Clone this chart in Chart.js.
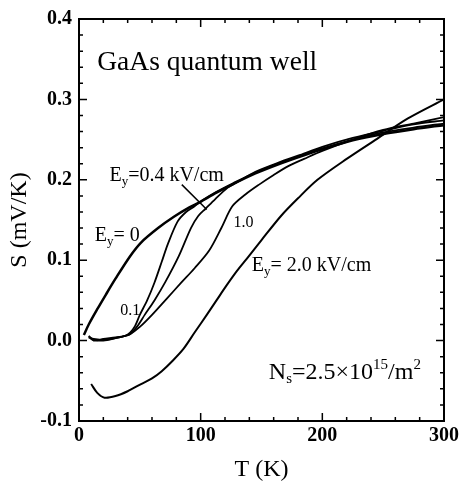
<!DOCTYPE html>
<html>
<head>
<meta charset="utf-8">
<script src="https://cdn.jsdelivr.net/npm/chart.js@4"></script>
<style>
  body { margin: 0; background: #fff; }
  #wrap { width: 462px; height: 487px; }
</style>
</head>
<body>
<div id="wrap"><canvas id="seebeck" width="462" height="487"></canvas></div>
<script>
// temperature (K) and thermopower S (mV/K), one pair per field value
const tempE0 = [4, 8, 15, 22, 30, 42, 51, 65, 78, 90, 99, 113, 127, 145, 165, 180, 200, 225, 250, 275, 300];
const sE0 = [0.007, 0.02, 0.039, 0.057, 0.077, 0.105, 0.122, 0.14, 0.154, 0.165, 0.172, 0.184, 0.195, 0.208, 0.22, 0.228, 0.238, 0.249, 0.257, 0.263, 0.268];

const tempE01 = [8, 12, 20, 30, 38, 42, 46, 50, 56, 62, 68, 73, 81, 88, 95, 100, 113, 127, 145, 165, 180, 200, 225, 250, 275, 300];
const sE01 = [0.005, 0.002, 0.001, 0.003, 0.006, 0.01, 0.018, 0.032, 0.05, 0.072, 0.098, 0.12, 0.148, 0.16, 0.167, 0.173, 0.185, 0.196, 0.209, 0.221, 0.229, 0.239, 0.25, 0.259, 0.265, 0.27];

const tempE04 = [8, 12, 20, 30, 38, 42, 48, 54, 62, 71, 82, 92, 98, 104, 112, 122, 130, 145, 165, 180, 200, 225, 250, 275, 300];
const sE04 = [0.006, 0.0, 0.002, 0.004, 0.006, 0.008, 0.018, 0.032, 0.05, 0.073, 0.105, 0.14, 0.155, 0.164, 0.176, 0.19, 0.197, 0.21, 0.222, 0.23, 0.241, 0.252, 0.261, 0.269, 0.274];

const tempE10 = [8, 12, 20, 30, 38, 42, 50, 60, 72, 84, 95, 107, 117, 126, 137, 148, 160, 172, 185, 200, 225, 250, 275, 300];
const sE10 = [0.004, 0.001, 0.0, 0.003, 0.006, 0.008, 0.017, 0.032, 0.052, 0.072, 0.09, 0.112, 0.14, 0.167, 0.182, 0.194, 0.206, 0.217, 0.226, 0.236, 0.25, 0.262, 0.27, 0.278];

const tempE20 = [10, 15, 21, 30, 40, 51, 60, 68, 77, 86, 95, 105, 113, 121, 130, 138, 150, 166, 180, 196, 220, 245, 270, 300];
const sE20 = [-0.054, -0.065, -0.071, -0.069, -0.063, -0.054, -0.047, -0.038, -0.025, -0.01, 0.01, 0.032, 0.05, 0.068, 0.087, 0.102, 0.125, 0.155, 0.177, 0.2, 0.226, 0.251, 0.276, 0.3];

const xTicks = [0, 100, 200, 300];
const yTicks = [-0.1, 0.0, 0.1, 0.2, 0.3, 0.4];

function pts(t, s) {
  return t.map((v, i) => ({ x: v, y: s[i] }));
}

const serif = '"Liberation Serif", "DejaVu Serif", serif';

function line(t, s, w) {
  return {
    data: pts(t, s),
    borderColor: '#000',
    borderWidth: w,
    pointRadius: 0,
    tension: 0.3,
    fill: false
  };
}

// box frame + inward tick marks
const frame = {
  id: 'frame',
  afterDraw(chart) {
    const ctx = chart.ctx;
    const a = chart.chartArea;
    const xs = chart.scales.x, ys = chart.scales.y;
    ctx.save();
    ctx.strokeStyle = '#000';
    ctx.lineWidth = 2;
    ctx.strokeRect(a.left, a.top, a.right - a.left, a.bottom - a.top);
    ctx.lineWidth = 1.5;
    ctx.beginPath();
    for (let v = 0; v <= 300; v += 20) {
      const px = xs.getPixelForValue(v);
      const len = xTicks.includes(v) ? 8 : 4;
      ctx.moveTo(px, a.bottom); ctx.lineTo(px, a.bottom - len);
      ctx.moveTo(px, a.top); ctx.lineTo(px, a.top + len);
    }
    for (let k = -5; k <= 20; k++) {
      const v = k * 0.02;
      const py = ys.getPixelForValue(v);
      const len = k % 5 === 0 ? 8 : 4;
      ctx.moveTo(a.left, py); ctx.lineTo(a.left + len, py);
      ctx.moveTo(a.right, py); ctx.lineTo(a.right - len, py);
    }
    ctx.stroke();
    ctx.restore();
  }
};

// draw a run of text pieces: [text, size, dy]
function runText(ctx, x, y, pieces) {
  let cx = x;
  pieces.forEach(p => {
    ctx.font = p[1] + 'px ' + serif;
    ctx.fillText(p[0], cx, y + (p[2] || 0));
    cx += ctx.measureText(p[0]).width;
  });
}

const labels = {
  id: 'labels',
  afterDraw(chart) {
    const ctx = chart.ctx;
    const xs = chart.scales.x, ys = chart.scales.y;
    const X = v => xs.getPixelForValue(v);
    const Y = v => ys.getPixelForValue(v);
    ctx.save();
    ctx.fillStyle = '#000';
    ctx.textBaseline = 'alphabetic';
    ctx.textAlign = 'left';

    runText(ctx, X(15), Y(0.336), [['GaAs quantum well', 27.5]]);
    runText(ctx, X(25), Y(0.198), [['E', 20], ['y', 13, 4], ['=0.4 kV/cm', 20]]);
    runText(ctx, X(13), Y(0.124), [['E', 20], ['y', 13, 4], ['= 0', 20]]);
    runText(ctx, X(127), Y(0.141), [['1.0', 16]]);
    runText(ctx, X(34), Y(0.032), [['0.1', 16]]);
    runText(ctx, X(142), Y(0.087), [['E', 20], ['y', 13, 4], ['= 2.0 kV/cm', 20]]);
    runText(ctx, X(156), Y(-0.048), [['N', 24], ['s', 15, 4], ['=2.5\u00d710', 24], ['15', 15, -10], ['/m', 24], ['2', 15, -10]]);

    // pointer from the 0.4 label to its curve
    ctx.strokeStyle = '#000';
    ctx.lineWidth = 1.5;
    ctx.beginPath();
    ctx.moveTo(X(84.5), Y(0.194));
    ctx.lineTo(X(105), Y(0.163));
    ctx.stroke();
    ctx.restore();
  }
};

new Chart(document.getElementById('seebeck'), {
  type: 'line',
  data: {
    datasets: [
      line(tempE0, sE0, 2.5),
      line(tempE01, sE01, 1.8),
      line(tempE04, sE04, 1.8),
      line(tempE10, sE10, 1.8),
      line(tempE20, sE20, 2)
    ]
  },
  options: {
    responsive: false,
    animation: false,
    devicePixelRatio: 1,
    layout: { padding: { left: 0, right: 15, top: 13, bottom: 0 } },
    plugins: { legend: { display: false }, tooltip: { enabled: false } },
    scales: {
      x: {
        type: 'linear',
        min: 0, max: 300,
        afterBuildTicks: s => { s.ticks = xTicks.map(v => ({ value: v })); },
        afterFit: s => { s.height = 66; },
        grid: { display: false, drawTicks: false },
        border: { display: false },
        ticks: { color: '#000', padding: 3, font: { family: serif, size: 20, weight: 'bold' } },
        title: { display: true, text: 'T (K)', color: '#000', padding: { top: 0, bottom: 3 }, font: { family: serif, size: 24 } }
      },
      y: {
        type: 'linear',
        min: -0.1, max: 0.4,
        afterBuildTicks: s => { s.ticks = yTicks.map(v => ({ value: v })); },
        afterFit: s => { s.width = 79; },
        grid: { display: false, drawTicks: false },
        border: { display: false },
        ticks: { color: '#000', padding: 7, font: { family: serif, size: 20, weight: 'bold' }, callback: v => v.toFixed(1) },
        title: { display: true, text: 'S (mV/K)', color: '#000', padding: { top: 5, bottom: 0 }, font: { family: serif, size: 24 } }
      }
    }
  },
  plugins: [frame, labels]
});
</script>
</body>
</html>
